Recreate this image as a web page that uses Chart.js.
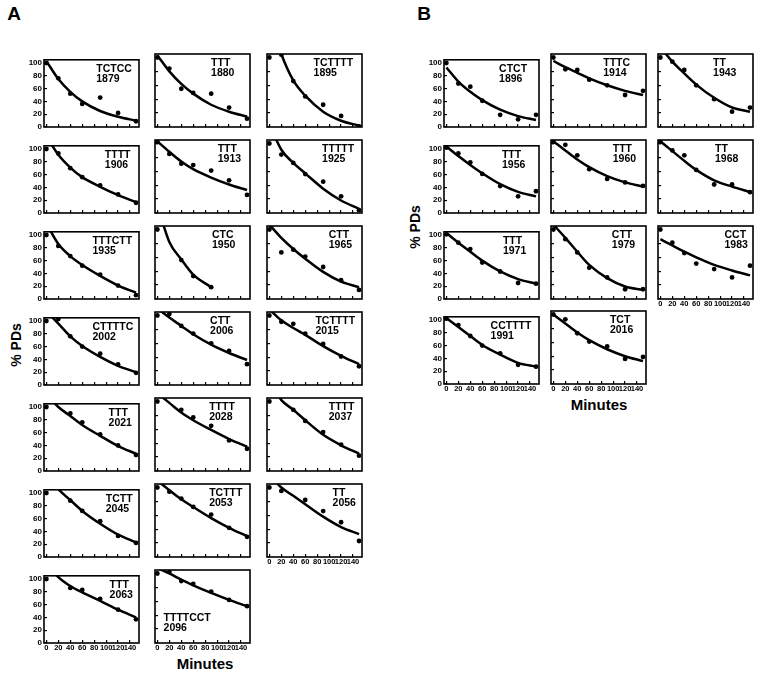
<!DOCTYPE html>
<html>
<head>
<meta charset="utf-8">
<script src="https://cdn.jsdelivr.net/npm/chart.js@4.4.0/dist/chart.umd.min.js"></script>
<style>
  body { margin: 0; background: #fff; }
  #fig { position: relative; width: 760px; height: 675px; background: #fff; overflow: hidden;
         font-family: "Liberation Sans", Arial, Helvetica, sans-serif; color: #000; }
  #fig canvas { position: absolute; }
  .t { position: absolute; font-weight: bold; white-space: nowrap; transform: translate(-50%, -50%); }
  .rot { transform: translate(-50%, -50%) rotate(-90deg); }
</style>
</head>
<body>
<div id="fig">
  <div class="t" style="left:14px;top:14px;font-size:19px">A</div>
  <div class="t" style="left:424px;top:14px;font-size:19px">B</div>
  <div class="t rot" style="left:16px;top:345px;font-size:14px">% PDs</div>
  <div class="t rot" style="left:415px;top:227px;font-size:14px">% PDs</div>
  <div class="t" style="left:205px;top:663px;font-size:15px">Minutes</div>
  <div class="t" style="left:599px;top:404px;font-size:15px">Minutes</div>
</div>
<script>
// sampling times (min) and axis ticks
const times = [0, 20, 40, 60, 90, 120, 150];
const xTicks = [0, 20, 40, 60, 80, 100, 120, 140];
const yTicks = [0, 20, 40, 60, 80, 100];

// ---- panel A ----
const seqA = ['TCTCC', 'TTT', 'TCTTTT', 'TTTT', 'TTT', 'TTTTT', 'TTTCTT', 'CTC', 'CTT', 'CTTTTC',
              'CTT', 'TCTTTT', 'TTT', 'TTTT', 'TTTT', 'TCTT', 'TCTTT', 'TT', 'TTT', 'TTTTCCT'];
const idA = ['1879', '1880', '1895', '1906', '1913', '1925', '1935', '1950', '1965', '2002',
             '2006', '2015', '2021', '2028', '2037', '2045', '2053', '2056', '2063', '2096'];
// measured % PDs at each time
const pdA = [
  [100, 76, 52, 36, 46, 22, 9],
  [100, 84, 55, 49, 48, 28, 12],
  [100, 104, 66, 44, 32, 16, 1],
  [100, 93, 70, 56, 43, 29, 16],
  [102, 85, 71, 69, 61, 47, 26],
  [100, 84, 72, 56, 45, 24, 4],
  [100, 83, 67, 52, 38, 21, 6],
  [100, null, 56, 33, 17, null, null],
  [100, 67, 71, 61, 46, 27, 13],
  [100, 103, 76, 60, 49, 32, 19],
  [100, 102, 85, 74, 60, 49, 30],
  [100, 91, 88, 74, 59, 41, 27],
  [100, null, 90, 76, 57, 40, 25],
  [100, null, 88, 77, 65, 44, 32],
  [100, null, 88, 72, 56, 38, 22],
  [100, null, 88, 72, 56, 33, 22],
  [100, 94, 84, 72, 61, 42, 29],
  [100, 95, null, 82, 66, 50, 23],
  [100, null, 86, 83, 69, 52, 37],
  [100, 102, 89, 85, 74, 62, 53]
];
// fitted decay curve read at the same times
const fitA = [
  [103, 75, 55, 40, 25, 16, 10],
  [103, 80, 62, 48, 32, 22, 15],
  [160, 105, 67, 45, 22, 9, 2],
  [120, 91, 71, 56, 41, 28, 17],
  [103, 88, 74, 63, 51, 41, 33],
  [128, 91, 72, 57, 35, 18, 6],
  [118, 86, 67, 53, 36, 21, 10],
  [135, 82, 57, 35, 17, null, null],
  [107, 88, 72, 58, 39, 25, 17],
  [115, 96, 76, 61, 44, 30, 20],
  [110, 97, 85, 73, 58, 46, 36],
  [109, 93, 82, 72, 56, 42, 30],
  [120, 100, 86, 72, 55, 39, 27],
  [112, 98, 84, 73, 59, 46, 35],
  [128, 102, 88, 73, 52, 37, 25],
  [130, 106, 89, 72, 52, 35, 23],
  [110, 96, 83, 72, 56, 42, 30],
  [118, 100, 88, 76, 58, 43, 33],
  [125, 103, 89, 79, 66, 52, 40],
  [108, 100, 91, 83, 72, 62, 53]
];

// ---- panel B ----
const seqB = ['CTCT', 'TTTC', 'TT', 'TTT', 'TTT', 'TT', 'TTT', 'CTT', 'CCT', 'CCTTTT', 'TCT'];
const idB = ['1896', '1914', '1943', '1956', '1960', '1968', '1971', '1979', '1983', '1991', '2016'];
const pdB = [
  [100, 68, 63, 41, 19, 12, 19],
  [100, 83, 82, 68, 60, 46, 52],
  [100, 94, 82, 60, 40, 22, 28],
  [102, 93, 79, 61, 42, 26, 34],
  [102, 98, 83, 63, 49, 44, 39],
  [102, 90, 83, 62, 41, 41, 30],
  [101, 88, 78, 57, 43, 25, 24],
  [100, 86, 67, 45, 31, 14, 14],
  [100, 81, 66, 51, 43, 31, 48],
  [102, 92, 75, 60, 48, 30, 27],
  [100, 93, 73, 61, 54, 36, 39]
];
const fitB = [
  [93, 71, 55, 42, 27, 17, 11],
  [95, 86, 78, 70, 60, 52, 46],
  [115, 94, 77, 61, 42, 28, 22],
  [104, 89, 75, 62, 45, 33, 26],
  [103, 90, 77, 66, 53, 44, 38],
  [103, 89, 75, 62, 47, 38, 30],
  [103, 88, 74, 60, 43, 31, 24],
  [107, 88, 68, 49, 30, 18, 13],
  [86, 77, 68, 60, 49, 41, 34],
  [103, 89, 75, 61, 46, 33, 27],
  [100, 87, 74, 63, 50, 40, 33]
];

// layout (plot-area corners in page px) and label placement
const colA = [44, 155, 267], rowA = [54, 140, 226, 312, 398, 484, 570];
const colB = [444, 551, 658], rowB = [54, 140, 226, 311];
const labelXA = [0.55, 0.59, 0.49, 0.64, 0.66, 0.58, 0.51, 0.60, 0.65, 0.51,
                 0.58, 0.51, 0.68, 0.57, 0.65, 0.65, 0.57, 0.69, 0.69, 0.09];
const labelXB = [0.58, 0.55, 0.58, 0.61, 0.65, 0.60, 0.62, 0.64, 0.70, 0.49, 0.62];

const PW = 95, PH = 73, PADL = 24, PADT = 4, PADR = 6, PADB = 14;
const FONT = '"Liberation Sans", Arial, Helvetica, sans-serif';
Chart.defaults.font.family = FONT;
Chart.defaults.color = '#000';

const framePlugin = {
  id: 'frame',
  afterDraw(chart, args, opts) {
    const { ctx, chartArea: a } = chart;
    ctx.save();
    ctx.strokeStyle = '#000';
    ctx.lineWidth = 1.6;
    ctx.strokeRect(a.left, a.top, a.right - a.left, a.bottom - a.top);
    ctx.fillStyle = '#000';
    ctx.font = 'bold 10.5px ' + FONT;
    ctx.textBaseline = 'middle';
    ctx.textAlign = 'left';
    const x = a.left + opts.fx * (a.right - a.left);
    const y = a.top + (opts.low ? 48 : 9);
    ctx.fillText(opts.seq, x, y);
    ctx.fillText(opts.id, x, y + 10.5);
    ctx.restore();
  }
};

function toXY(vals) {
  return times.map((t, i) => ({ x: t, y: vals[i] }));
}

function addPanel(left, top, seq, id, pd, fit, fx, showX, showY, low) {
  const cv = document.createElement('canvas');
  cv.width = PADL + PW + PADR;
  cv.height = PADT + PH + PADB;
  cv.style.left = (left - PADL) + 'px';
  cv.style.top = (top - PADT) + 'px';
  document.getElementById('fig').appendChild(cv);

  new Chart(cv, {
    type: 'line',
    data: {
      datasets: [
        {
          data: toXY(fit),
          borderColor: '#000',
          borderWidth: 2.5,
          pointRadius: 0,
          cubicInterpolationMode: 'monotone',
          spanGaps: false
        },
        {
          data: toXY(pd),
          showLine: false,
          pointRadius: 2.4,
          pointBackgroundColor: '#000',
          pointBorderColor: '#000',
          pointBorderWidth: 0
        }
      ]
    },
    options: {
      responsive: false,
      animation: false,
      events: [],
      layout: { padding: { left: 0, top: PADT, right: PADR, bottom: 0 } },
      plugins: {
        legend: { display: false },
        tooltip: { enabled: false },
        frame: { seq: seq, id: id, fx: fx, low: low }
      },
      scales: {
        x: {
          type: 'linear',
          min: -4,
          max: 155,
          border: { display: false },
          grid: { drawOnChartArea: false, drawTicks: true, tickLength: -3, color: '#000', lineWidth: 1.2 },
          ticks: { display: showX, font: { size: 7.5, weight: 'bold' }, padding: 3,
                   autoSkip: false, maxRotation: 0, minRotation: 0 },
          afterBuildTicks: s => { s.ticks = xTicks.map(v => ({ value: v })); },
          afterFit: s => { s.height = PADB; }
        },
        y: {
          min: 0,
          max: 105,
          border: { display: false },
          grid: { drawOnChartArea: false, drawTicks: true, tickLength: -3, color: '#000', lineWidth: 1.2 },
          ticks: { display: showY, font: { size: 8, weight: 'bold' }, padding: 5 },
          afterBuildTicks: s => { s.ticks = yTicks.map(v => ({ value: v })); },
          afterFit: s => { s.width = PADL; }
        }
      }
    },
    plugins: [framePlugin]
  });
}

seqA.forEach((s, i) => {
  const c = i % 3, r = Math.floor(i / 3);
  addPanel(colA[c], rowA[r], s, idA[i], pdA[i], fitA[i], labelXA[i],
           i + 3 >= seqA.length, c === 0, idA[i] === '2096');
});
seqB.forEach((s, i) => {
  const c = i % 3, r = Math.floor(i / 3);
  addPanel(colB[c], rowB[r], s, idB[i], pdB[i], fitB[i], labelXB[i],
           i + 3 >= seqB.length, c === 0, false);
});
</script>
</body>
</html>
